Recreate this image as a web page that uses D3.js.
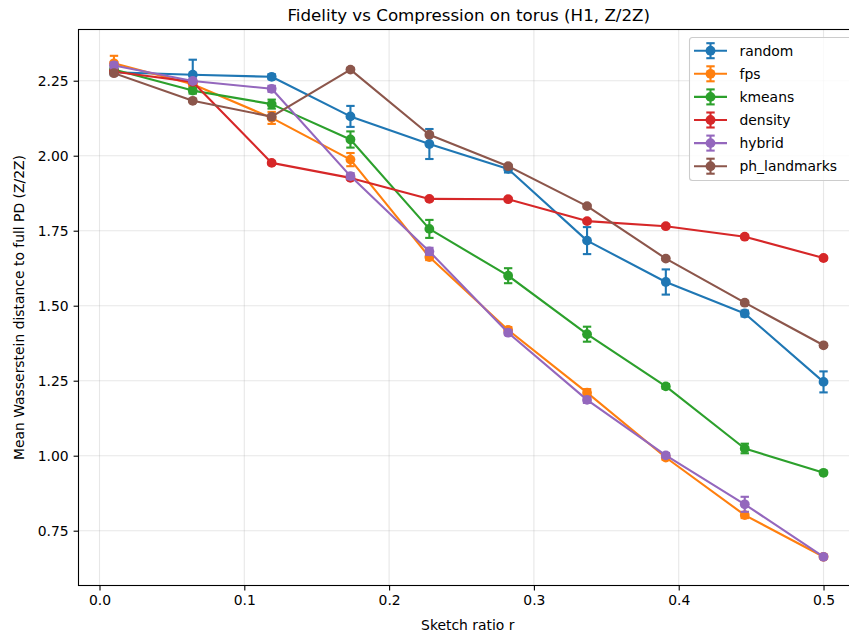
<!DOCTYPE html>
<html><head><meta charset="utf-8">
<script src="https://cdn.jsdelivr.net/npm/d3@7"></script>
<style>
body{margin:0;background:#fff;}
text{font-family:"DejaVu Sans",sans-serif;fill:#000;}
</style></head>
<body><svg id="c" width="849" height="636"></svg>
<script>
const ratios = [0.01, 0.0644, 0.1189, 0.1733, 0.2278, 0.2822, 0.3367, 0.3911, 0.4456, 0.5];
const methods = ["random", "fps", "kmeans", "density", "hybrid", "ph_landmarks"];
const colors = ["#1f77b4", "#ff7f0e", "#2ca02c", "#d62728", "#9467bd", "#8c564b"];
const randomMean = [2.278, 2.270, 2.263, 2.131, 2.039, 1.956, 1.717, 1.579, 1.474, 1.246];
const randomErr  = [0.010, 0.050, 0.008, 0.035, 0.050, 0.012, 0.045, 0.042, 0.010, 0.035];
const fpsMean = [2.308, 2.238, 2.126, 1.987, 1.662, 1.419, 1.210, 0.994, 0.802, 0.663];
const fpsErr  = [0.025, 0.010, 0.020, 0.022, 0.010, 0.010, 0.012, 0.008, 0.010, 0.005];
const kmeansMean = [2.287, 2.217, 2.172, 2.054, 1.756, 1.600, 1.405, 1.231, 1.024, 0.943];
const kmeansErr  = [0.010, 0.010, 0.015, 0.027, 0.030, 0.025, 0.025, 0.008, 0.016, 0.005];
const densityMean = [2.280, 2.246, 1.976, 1.926, 1.856, 1.855, 1.782, 1.765, 1.730, 1.659];
const densityErr  = [0.005, 0.005, 0.005, 0.005, 0.005, 0.005, 0.005, 0.005, 0.005, 0.005];
const hybridMean = [2.301, 2.249, 2.223, 1.932, 1.681, 1.410, 1.186, 1.001, 0.838, 0.663];
const hybridErr  = [0.010, 0.008, 0.010, 0.010, 0.012, 0.008, 0.010, 0.008, 0.025, 0.005];
const phMean = [2.275, 2.183, 2.130, 2.287, 2.070, 1.965, 1.832, 1.657, 1.510, 1.368];
const phErr  = [0.005, 0.005, 0.005, 0.005, 0.005, 0.005, 0.005, 0.005, 0.005, 0.005];
const xTicks = [0.0, 0.1, 0.2, 0.3, 0.4, 0.5];
const yTicks = [0.75, 1.00, 1.25, 1.50, 1.75, 2.00, 2.25];

const series = [
  {name: methods[0], mean: randomMean, err: randomErr, color: colors[0]},
  {name: methods[1], mean: fpsMean, err: fpsErr, color: colors[1]},
  {name: methods[2], mean: kmeansMean, err: kmeansErr, color: colors[2]},
  {name: methods[3], mean: densityMean, err: densityErr, color: colors[3]},
  {name: methods[4], mean: hybridMean, err: hybridErr, color: colors[4]},
  {name: methods[5], mean: phMean, err: phErr, color: colors[5]}
];

const svg = d3.select("#c");
const L = 78.5, R = 859, T = 29.5, B = 585.5;
const x = d3.scaleLinear().domain([-0.0145, 0.5245]).range([L, R]);
const y = d3.scaleLinear().domain([0.5673, 2.4207]).range([B, T]);

// grid
const g = svg.append("g");
g.selectAll(".gx").data(xTicks).enter().append("line")
  .attr("x1", d => x(d)).attr("x2", d => x(d)).attr("y1", T).attr("y2", B)
  .attr("stroke", "#b0b0b0").attr("stroke-opacity", 0.3).attr("stroke-width", 1.1);
g.selectAll(".gy").data(yTicks).enter().append("line")
  .attr("x1", L).attr("x2", R).attr("y1", d => y(d)).attr("y2", d => y(d))
  .attr("stroke", "#b0b0b0").attr("stroke-opacity", 0.3).attr("stroke-width", 1.1);

// axes
const xAxis = d3.axisBottom(x).tickValues(xTicks).tickFormat(d3.format(".1f")).tickSize(4.9).tickPadding(4.9);
const yAxis = d3.axisLeft(y).tickValues(yTicks).tickFormat(d3.format(".2f")).tickSize(4.9).tickPadding(4.9);
const gx = svg.append("g").attr("transform", `translate(0,${B})`).call(xAxis);
const gy = svg.append("g").attr("transform", `translate(${L},0)`).call(yAxis);
[gx, gy].forEach(a => {
  a.select(".domain").remove();
  a.selectAll(".tick line").attr("stroke", "#000").attr("stroke-width", 1.1);
  a.selectAll(".tick text").style("font-size", "13.9px").style("font-family", "DejaVu Sans");
});
// spines
svg.append("rect").attr("x", L).attr("y", T).attr("width", R - L).attr("height", B - T)
  .attr("fill", "none").attr("stroke", "#000").attr("stroke-width", 1.1);

const line = d3.line().x((d, i) => x(ratios[i])).y(d => y(d));
const cap = 4.2;
series.forEach(s => {
  const gs = svg.append("g");
  gs.append("path").datum(s.mean).attr("d", line).attr("fill", "none")
    .attr("stroke", s.color).attr("stroke-width", 2.1).attr("stroke-linejoin", "round").attr("stroke-linecap", "square");
  s.mean.forEach((m, i) => {
    const cx = x(ratios[i]), y0 = y(m - s.err[i]), y1 = y(m + s.err[i]);
    gs.append("line").attr("x1", cx).attr("x2", cx).attr("y1", y0).attr("y2", y1).attr("stroke", s.color).attr("stroke-width", 2.1);
    gs.append("line").attr("x1", cx - cap).attr("x2", cx + cap).attr("y1", y0).attr("y2", y0).attr("stroke", s.color).attr("stroke-width", 2.1);
    gs.append("line").attr("x1", cx - cap).attr("x2", cx + cap).attr("y1", y1).attr("y2", y1).attr("stroke", s.color).attr("stroke-width", 2.1);
  });
  gs.selectAll("circle").data(s.mean).enter().append("circle")
    .attr("cx", (d, i) => x(ratios[i])).attr("cy", d => y(d)).attr("r", 4.9).attr("fill", s.color);
});

// title & labels
svg.append("text").attr("x", (L + R) / 2).attr("y", 21).attr("text-anchor", "middle")
  .style("font-size", "16.7px").text("Fidelity vs Compression on torus (H1, Z/2Z)");
svg.append("text").attr("x", (L + R) / 2 - 1).attr("y", 630).attr("text-anchor", "middle")
  .style("font-size", "13.9px").text("Sketch ratio r");
svg.append("text").attr("transform", `translate(24,${(T + B) / 2}) rotate(-90)`).attr("text-anchor", "middle")
  .style("font-size", "13.9px").text("Mean Wasserstein distance to full PD (Z/2Z)");

// legend
const lg = svg.append("g");
lg.append("rect").attr("x", 689.5).attr("y", 37.5).attr("width", 164).attr("height", 143).attr("rx", 3)
  .attr("fill", "#fff").attr("fill-opacity", 0.8).attr("stroke", "#cccccc").attr("stroke-width", 1.1);
series.forEach((s, i) => {
  const cy = 50.7 + i * 23.1;
  const hx0 = 694, hx1 = 727, hc = (hx0 + hx1) / 2;
  lg.append("line").attr("x1", hx0).attr("x2", hx1).attr("y1", cy).attr("y2", cy).attr("stroke", s.color).attr("stroke-width", 2.1);
  lg.append("line").attr("x1", hc).attr("x2", hc).attr("y1", cy - 7.5).attr("y2", cy + 7.5).attr("stroke", s.color).attr("stroke-width", 2.1);
  lg.append("line").attr("x1", hc - cap).attr("x2", hc + cap).attr("y1", cy - 7.5).attr("y2", cy - 7.5).attr("stroke", s.color).attr("stroke-width", 2.1);
  lg.append("line").attr("x1", hc - cap).attr("x2", hc + cap).attr("y1", cy + 7.5).attr("y2", cy + 7.5).attr("stroke", s.color).attr("stroke-width", 2.1);
  lg.append("circle").attr("cx", hc).attr("cy", cy).attr("r", 4.9).attr("fill", s.color);
  lg.append("text").attr("x", 739.5).attr("y", cy + 5).style("font-size", "13.9px").text(s.name);
});
</script></body></html>
